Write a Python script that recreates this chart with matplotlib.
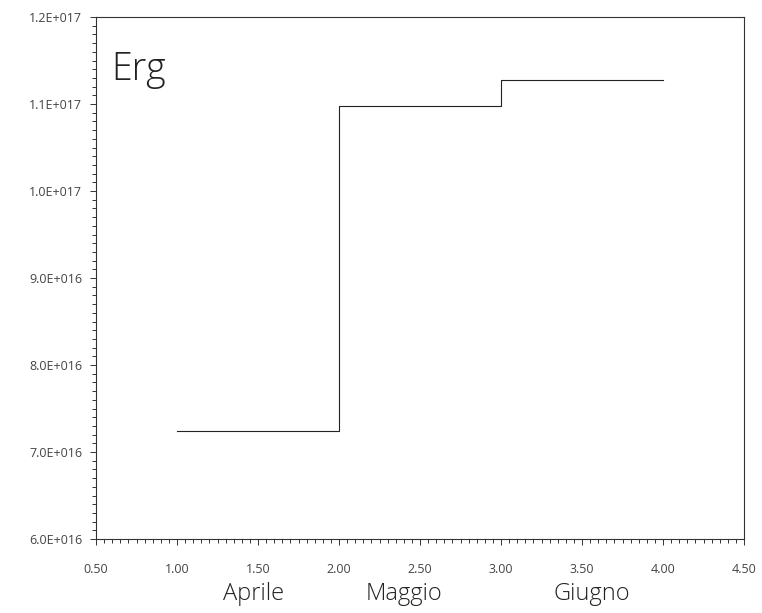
import matplotlib
matplotlib.use("Agg")
import matplotlib.pyplot as plt
from matplotlib.ticker import MultipleLocator, FuncFormatter

# dati
mesi = ["Aprile", "Maggio", "Giugno"]
x_mesi = [1.0, 2.0, 3.0, 4.0]
erg = [7.24e16, 1.098e17, 1.128e17]
pos_etichette = [1.47, 2.40, 3.56]

plt.rcParams['font.family'] = ['Open Sans', 'DejaVu Sans']

fig = plt.figure(figsize=(7.62, 6.13), dpi=100)
ax = fig.add_axes([96 / 762, 74 / 613, 648 / 762, 522 / 613])

# gradini: ogni mese tiene il suo valore fino al successivo
ax.step(x_mesi, erg + [erg[-1]], where='post', color='#222222', lw=0.8)

ax.set_xlim(0.5, 4.5)
ax.set_ylim(6.0e16, 1.2e17)

ax.xaxis.set_major_locator(MultipleLocator(0.5))
ax.xaxis.set_minor_locator(MultipleLocator(0.05))
ax.yaxis.set_major_locator(MultipleLocator(1e16))
ax.yaxis.set_minor_locator(MultipleLocator(1e15))


def fmt_sci(v, pos):
    if v == 0:
        return "0.0E+000"
    exp = len(str(int(abs(v)))) - 1
    return f"{v / 10 ** exp:.1f}E+{exp:03d}"


ax.yaxis.set_major_formatter(FuncFormatter(fmt_sci))
ax.xaxis.set_major_formatter(FuncFormatter(lambda v, p: f"{v:.2f}"))

ax.tick_params(which='both', direction='out', colors='#333333', labelcolor='#444444',
               labelsize=9, width=0.7)
ax.tick_params(which='major', length=4)
ax.tick_params(which='minor', length=3)
ax.tick_params(axis='y', which='major', pad=6)
ax.tick_params(axis='x', which='major', pad=13)

for s in ax.spines.values():
    s.set_linewidth(0.8)
    s.set_color('#333333')

ax.text(0.023, 0.935, "Erg", transform=ax.transAxes, fontsize=27, fontweight='light',
        color='#222222', va='top', ha='left')

for m, px in zip(mesi, pos_etichette):
    ax.text(px, -0.105, m, transform=ax.get_xaxis_transform(), fontsize=17,
            fontweight='light', color='#222222', ha='center', va='center')

fig.savefig("out.png", dpi=100)
